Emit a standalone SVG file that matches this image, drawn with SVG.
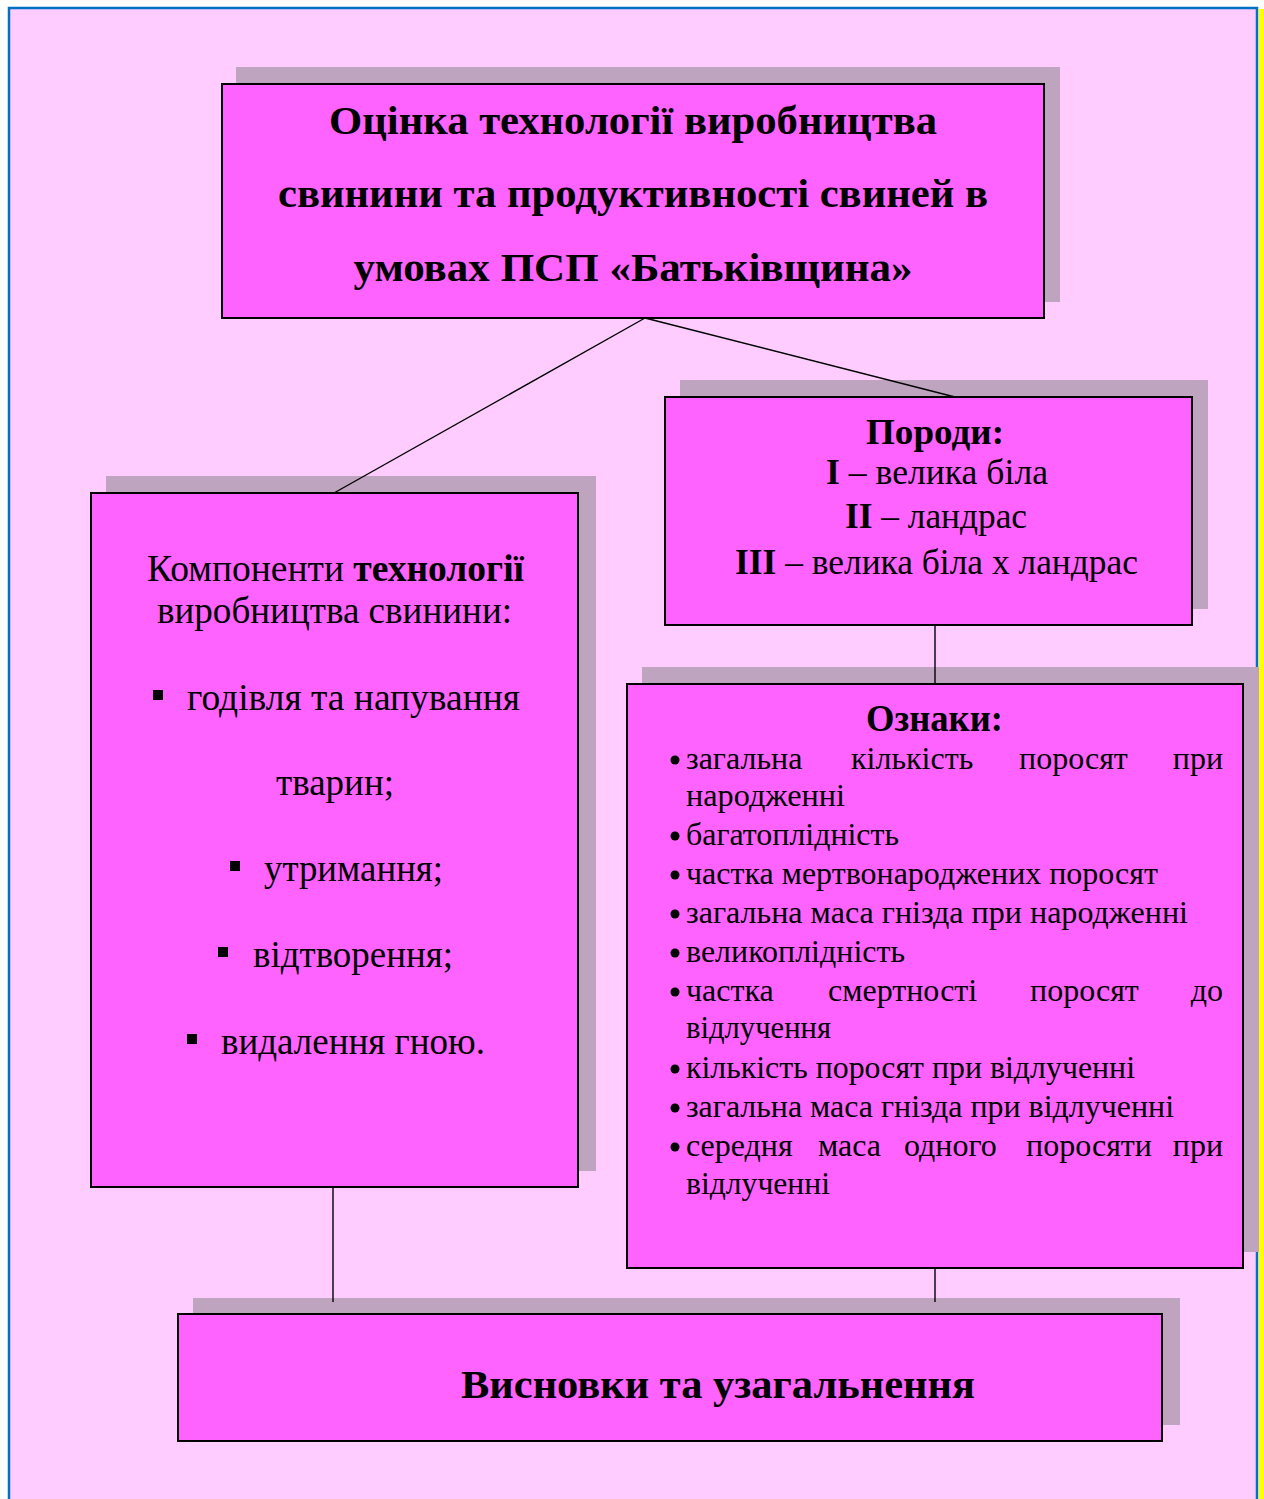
<svg xmlns="http://www.w3.org/2000/svg" width="1264" height="1499" viewBox="0 0 1264 1499">
<style>
.bg{fill:#FFCCFF}
.sh{fill:#BFA4BF}
.box{fill:#FF63FF;stroke:#000;stroke-width:2}
.ln{stroke:#000;stroke-width:1.4;fill:none}
text{font-family:"Liberation Serif","Times New Roman",serif;fill:#000}
.t{font-size:40px;font-weight:bold;text-anchor:middle}
.m{font-size:37px;text-anchor:middle}
.p{font-size:36px;text-anchor:middle}
.l{font-size:37px}
.b{font-weight:bold}
.o{font-size:32px}
.e{text-anchor:end}
</style>
<rect x="0" y="0" width="1264" height="1499" fill="#FFFFFF"/>
<rect class="bg" x="9" y="8" width="1249" height="1491"/>
<rect x="1259" y="9" width="5" height="1490" fill="#FFFF00"/>
<path d="M9,1499 V8 H1257 V1499" fill="none" stroke="#0070C0" stroke-width="2.5"/>

<g id="shadows">
<rect class="sh" x="236" y="67" width="824" height="235"/>
<rect class="sh" x="680" y="380" width="528" height="229"/>
<rect class="sh" x="106" y="476" width="490" height="695"/>
<rect class="sh" x="642" y="667" width="617" height="585"/>
<rect class="sh" x="193" y="1298" width="987" height="127"/>
</g>

<g id="connectors">
<line class="ln" x1="645" y1="318" x2="334" y2="493"/>
<line class="ln" x1="645" y1="318" x2="955" y2="397"/>
<line class="ln" x1="935" y1="625" x2="935" y2="684"/>
<line class="ln" x1="333" y1="1187" x2="333" y2="1302"/>
<line class="ln" x1="935" y1="1268" x2="935" y2="1302"/>
</g>

<g id="title">
<rect class="box" x="222" y="84" width="822" height="234"/>
<text class="t" x="633" y="134" textLength="608" lengthAdjust="spacingAndGlyphs">Оцінка технології виробництва</text>
<text class="t" x="633" y="207" textLength="710" lengthAdjust="spacingAndGlyphs">свинини та продуктивності свиней в</text>
<text class="t" x="633" y="281" textLength="559" lengthAdjust="spacingAndGlyphs">умовах ПСП «Батьківщина»</text>
</g>

<g id="breeds">
<rect class="box" x="665" y="397" width="527" height="228"/>
<text class="p b" x="935" y="444" textLength="138" lengthAdjust="spacingAndGlyphs">Породи:</text>
<text class="p" x="937" y="484" textLength="222" lengthAdjust="spacingAndGlyphs"><tspan class="b">I</tspan> – велика біла</text>
<text class="p" x="936" y="528" textLength="182" lengthAdjust="spacingAndGlyphs"><tspan class="b">II</tspan> – ландрас</text>
<text class="p" x="936.5" y="574" textLength="403" lengthAdjust="spacingAndGlyphs"><tspan class="b">III</tspan> – велика біла х ландрас</text>
</g>

<g id="components">
<rect class="box" x="91" y="493" width="487" height="694"/>
<text class="m" x="335.5" y="581" textLength="377" lengthAdjust="spacingAndGlyphs">Компоненти <tspan class="b">технології</tspan></text>
<text class="m" x="334.5" y="623" textLength="355" lengthAdjust="spacingAndGlyphs">виробництва свинини:</text>
<rect x="153" y="690" width="10" height="10" fill="#000"/>
<text class="l" x="187" y="710" textLength="333" lengthAdjust="spacingAndGlyphs">годівля та напування</text>
<text class="m" x="335" y="795" textLength="118" lengthAdjust="spacingAndGlyphs">тварин;</text>
<rect x="230" y="861" width="10" height="10" fill="#000"/>
<text class="l" x="264" y="881" textLength="179" lengthAdjust="spacingAndGlyphs">утримання;</text>
<rect x="218" y="947" width="10" height="10" fill="#000"/>
<text class="l" x="253" y="967" textLength="200" lengthAdjust="spacingAndGlyphs">відтворення;</text>
<rect x="187" y="1034" width="10" height="10" fill="#000"/>
<text class="l" x="221" y="1054" textLength="264" lengthAdjust="spacingAndGlyphs">видалення гною.</text>
</g>

<g id="traits">
<rect class="box" x="627" y="684" width="616" height="584"/>
<text class="b" style="font-size:37px" x="934.5" y="731" text-anchor="middle" textLength="137" lengthAdjust="spacingAndGlyphs">Ознаки:</text>
<g fill="#000">
<circle cx="675" cy="760" r="4.5"/>
<circle cx="675" cy="836" r="4.5"/>
<circle cx="675" cy="875" r="4.5"/>
<circle cx="675" cy="914" r="4.5"/>
<circle cx="675" cy="953" r="4.5"/>
<circle cx="675" cy="992" r="4.5"/>
<circle cx="675" cy="1069" r="4.5"/>
<circle cx="675" cy="1108" r="4.5"/>
<circle cx="675" cy="1147" r="4.5"/>
</g>
<text class="o" x="686" y="769">загальна</text>
<text class="o" x="851" y="769">кількість</text>
<text class="o" x="1019" y="769">поросят</text>
<text class="o e" x="1223" y="769">при</text>
<text class="o" x="686" y="806" textLength="159" lengthAdjust="spacingAndGlyphs">народженні</text>
<text class="o" x="686" y="845" textLength="213" lengthAdjust="spacingAndGlyphs">багатоплідність</text>
<text class="o" x="686" y="884" textLength="472" lengthAdjust="spacingAndGlyphs">частка мертвонароджених поросят</text>
<text class="o" x="686" y="923" textLength="502" lengthAdjust="spacingAndGlyphs">загальна маса гнізда при народженні</text>
<text class="o" x="686" y="962" textLength="219" lengthAdjust="spacingAndGlyphs">великоплідність</text>
<text class="o" x="686" y="1001">частка</text>
<text class="o" x="828" y="1001">смертності</text>
<text class="o" x="1030" y="1001">поросят</text>
<text class="o e" x="1223" y="1001">до</text>
<text class="o" x="686" y="1038" textLength="145" lengthAdjust="spacingAndGlyphs">відлучення</text>
<text class="o" x="686" y="1078" textLength="449" lengthAdjust="spacingAndGlyphs">кількість поросят при відлученні</text>
<text class="o" x="686" y="1117" textLength="488" lengthAdjust="spacingAndGlyphs">загальна маса гнізда при відлученні</text>
<text class="o" x="686" y="1156">середня</text>
<text class="o" x="818" y="1156">маса</text>
<text class="o" x="904" y="1156">одного</text>
<text class="o" x="1026" y="1156">поросяти</text>
<text class="o e" x="1223" y="1156">при</text>
<text class="o" x="686" y="1194" textLength="144" lengthAdjust="spacingAndGlyphs">відлученні</text>
</g>

<g id="conclusions">
<rect class="box" x="178" y="1314" width="984" height="127"/>
<text class="t" x="718" y="1398" textLength="514" lengthAdjust="spacingAndGlyphs">Висновки та узагальнення</text>
</g>
</svg>
